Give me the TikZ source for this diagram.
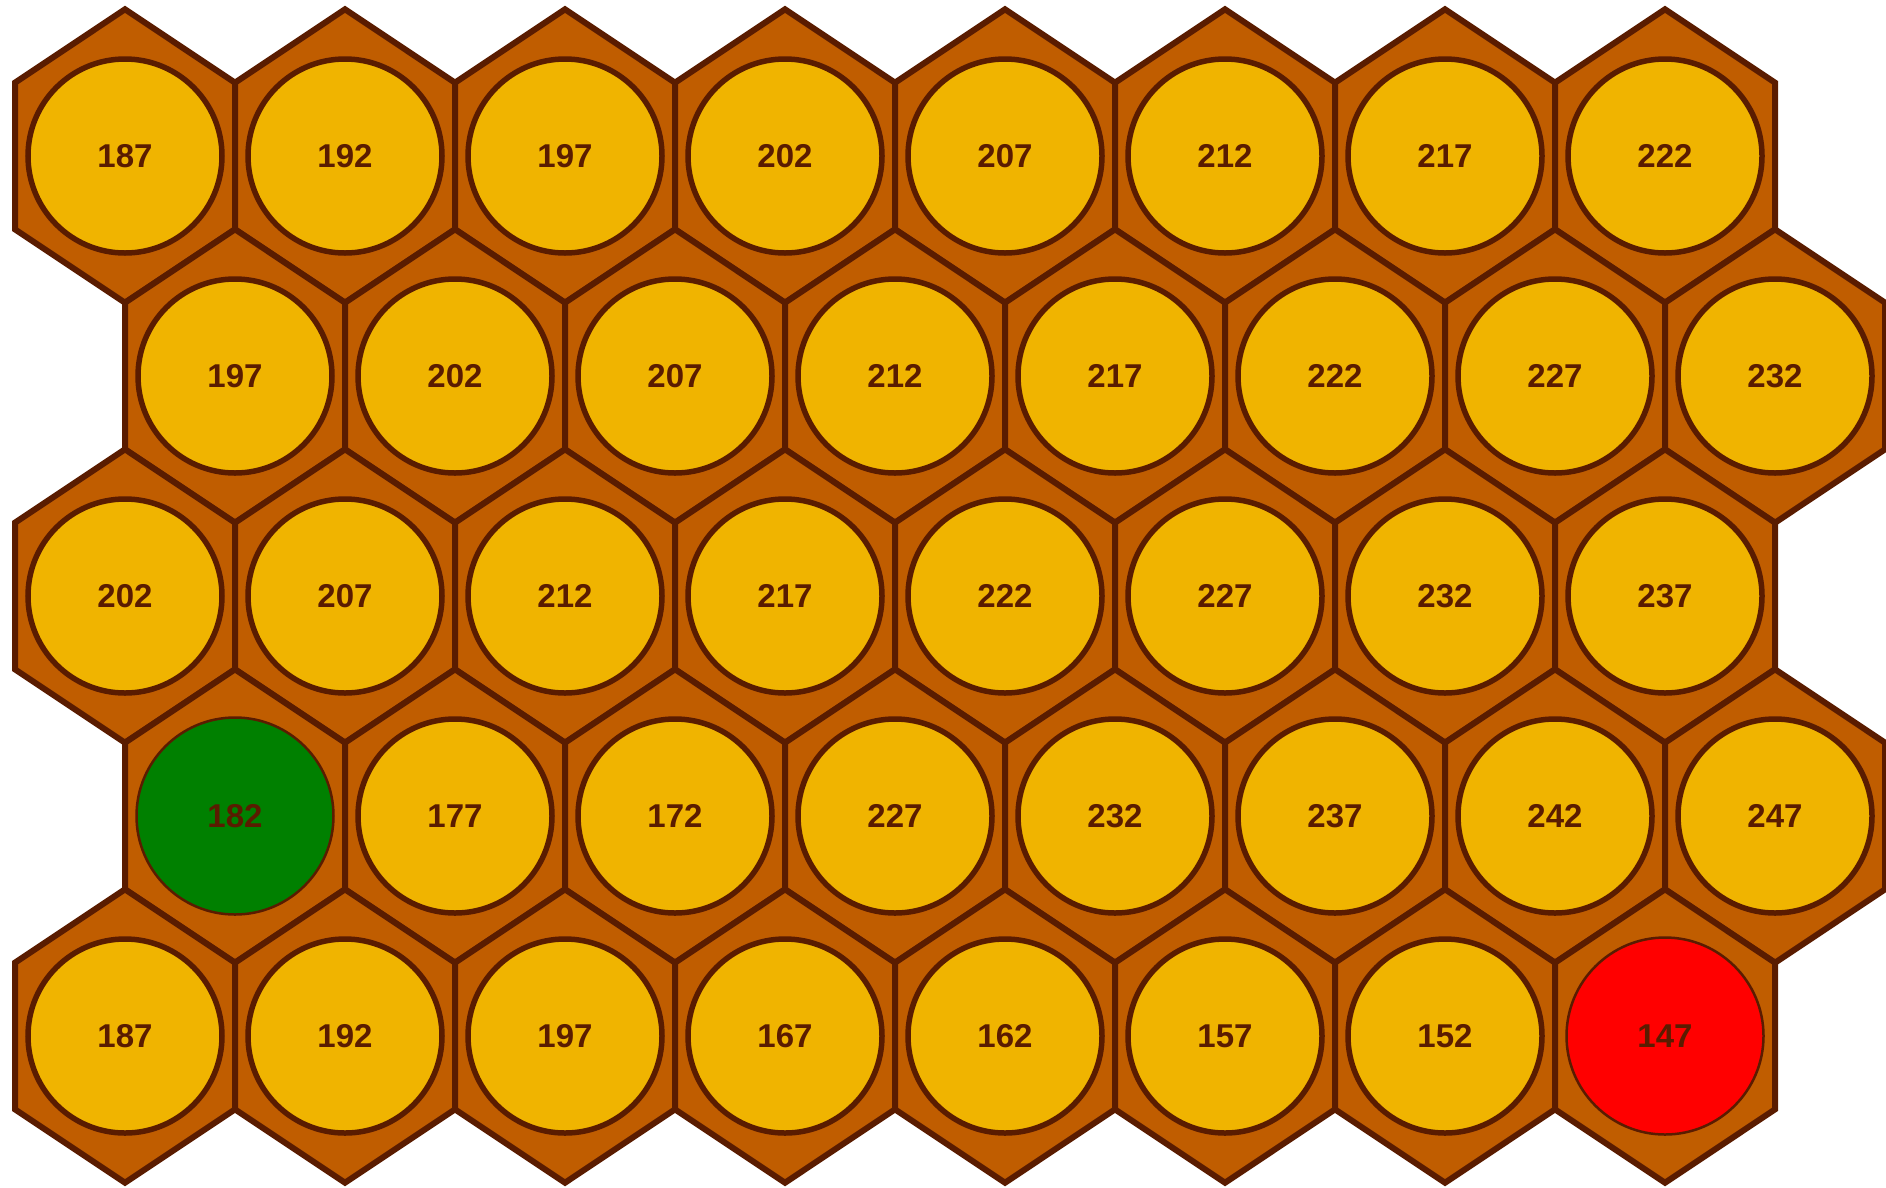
\documentclass[tikz,border=0pt]{standalone}
\usepackage{fontspec}
\setmainfont{Liberation Sans}
\definecolor{hexfill}{HTML}{C05D00}
\definecolor{gold}{HTML}{F0B400}
\definecolor{edge}{HTML}{5A1C00}
\definecolor{cgreen}{HTML}{008000}
\definecolor{cred}{HTML}{FF0000}
\begin{document}
\begin{tikzpicture}[x=1pt,y=1pt,
  hexcell/.style={fill=hexfill,draw=edge,line width=6pt,line join=miter},
  cell/.style={circle,draw=edge,line width=5.5pt,fill=gold,minimum size=194pt,inner sep=0pt,
    text=edge,font=\fontsize{33}{40}\selectfont\bfseries},
  greencell/.style={cell,fill=cgreen,line width=2.5pt,minimum size=197pt},
  redcell/.style={cell,fill=cred,line width=2.5pt,minimum size=197pt}]
\useasboundingbox (0,0) rectangle (1886,-1187);
\def\hw{110}\def\hh{146.7}\def\hq{73.35}
% hexagons
\foreach \r in {0,...,4}{
  \foreach \c in {0,...,7}{
    \pgfmathsetmacro{\cx}{125+220*\c+110*mod(\r,2)}
    \pgfmathsetmacro{\cy}{-(156+220*\r)}
    \draw[hexcell] (\cx,\cy+\hh) -- (\cx+\hw,\cy+\hq) -- (\cx+\hw,\cy-\hq) -- (\cx,\cy-\hh)
      -- (\cx-\hw,\cy-\hq) -- (\cx-\hw,\cy+\hq) -- cycle;
  }
}
% circles
\foreach \r/\vals in {0/{187,192,197,202,207,212,217,222},
                      1/{197,202,207,212,217,222,227,232},
                      2/{202,207,212,217,222,227,232,237},
                      3/{182,177,172,227,232,237,242,247},
                      4/{187,192,197,167,162,157,152,147}}{
  \foreach \v [count=\i from 0] in \vals {
    \pgfmathsetmacro{\cx}{125+220*\i+110*mod(\r,2)}
    \pgfmathsetmacro{\cy}{-(156+220*\r)}
    \pgfmathtruncatemacro{\key}{10*\r+\i}
    \ifnum\key=30
      \node[greencell] (c-\r-\i) at (\cx,\cy) {\v};
    \else\ifnum\key=47
      \node[redcell] (c-\r-\i) at (\cx,\cy) {\v};
    \else
      \node[cell] (c-\r-\i) at (\cx,\cy) {\v};
    \fi\fi
  }
}
\end{tikzpicture}
\end{document}
